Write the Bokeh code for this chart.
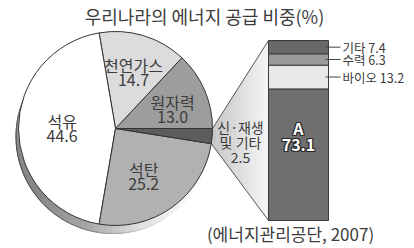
import numpy as np
from bokeh.plotting import figure
from bokeh.models import Range1d
from bokeh.core.properties import value
from bokeh.embed import file_html
from bokeh.resources import INLINE

# ---------------- data ----------------
title_text = "우리나라의 에너지 공급 비중(%)"
source_text = "(에너지관리공단, 2007)"

# pie slices, counter-clockwise starting at 3 o'clock
pie_names = ["원자력", "천연가스", "석유", "석탄", "신·재생 및 기타"]
pie_values = [13.0, 14.7, 44.6, 25.2, 2.5]
pie_label_lines = [["원자력", "13.0"], ["천연가스", "14.7"], ["석유", "44.6"],
                   ["석탄", "25.2"], ["신·재생", "및 기타", "2.5"]]
pie_colors = ["#9d9d9d", "#dcdcdc", "#ffffff", "#b1b1b1", "#5c5c5c"]

# breakdown bar of 신·재생 및 기타, bottom to top
bar_names = ["A", "바이오", "수력", "기타"]
bar_values = [73.1, 13.2, 6.3, 7.4]
bar_colors = ["#6f6f6f", "#e8e8e8", "#9a9a9a", "#686868"]

# ---------------- layout (pixel-like data units) ----------------
W, H = 414, 248
p = figure(width=W, height=H, x_range=Range1d(0, W), y_range=Range1d(0, H),
           output_backend="svg", toolbar_location=None,
           x_axis_type=None, y_axis_type=None, min_border=0)
p.outline_line_color = None
p.xgrid.visible = False
p.ygrid.visible = False
p.background_fill_color = "white"
p.border_fill_color = "white"

FONT = value("Noto Sans CJK KR")
TXT = "#3c3c3c"

cx, cy, r = 115.0, 120.0, 97.0
vals = np.array(pie_values)
ends = np.cumsum(vals) / 100 * 2 * np.pi
starts = ends - vals / 100 * 2 * np.pi

# ---- 3D depth (shaded rim at lower left) ----
ddx, ddy = -2.5, -8.0
seg = np.deg2rad(np.arange(130, 335, 4))
gray = np.interp(np.rad2deg(seg), [130, 175, 215, 250, 285, 320, 335],
                 [215, 140, 135, 165, 225, 250, 255])
cols = ["#%02x%02x%02x" % (int(g), int(g), int(g)) for g in gray]
p.wedge(x=cx + ddx, y=cy + ddy, radius=r, start_angle=seg,
        end_angle=seg + np.deg2rad(4.3), fill_color=cols, line_color=cols)
edge_seg = np.deg2rad(np.arange(140, 300, 4))
edge_g = np.interp(np.rad2deg(edge_seg), [140, 180, 230, 270, 300], [150, 70, 80, 160, 240])
edge_cols = ["#%02x%02x%02x" % (int(g), int(g), int(g)) for g in edge_g]
p.arc(x=cx + ddx, y=cy + ddy, radius=r, start_angle=edge_seg,
      end_angle=edge_seg + np.deg2rad(4.2), line_color=edge_cols, line_width=1)

# ---- connector between the small slice and the bar ----
bar_x0, bar_x1 = 268.0, 328.0
bar_y0, bar_y1 = 28.0, 208.0       # data y for 0 % and 100 %
a_top, a_bot = ends[4], starts[4]
p_top = (cx + r * np.cos(a_top), cy + r * np.sin(a_top))
p_bot = (cx + r * np.cos(a_bot), cy + r * np.sin(a_bot))
n = 14
ts = np.linspace(0, 1, n + 1)
xs, ys, ccols = [], [], []
for i in range(n):
    t0, t1 = ts[i], min(ts[i + 1] + 0.01, 1.0)
    def top(t): return (p_top[0] + (bar_x0 - p_top[0]) * t, p_top[1] + (bar_y1 - p_top[1]) * t)
    def bot(t): return (p_bot[0] + (bar_x0 - p_bot[0]) * t, p_bot[1] + (bar_y0 - p_bot[1]) * t)
    a, b, c, d = top(t0), top(t1), bot(t1), bot(t0)
    xs.append([a[0], b[0], c[0], d[0]])
    ys.append([a[1], b[1], c[1], d[1]])
    g = int(198 + (246 - 198) * (ts[i] + ts[i + 1]) / 2)
    ccols.append("#%02x%02x%02x" % (g, g, g))
p.patches(xs=xs, ys=ys, fill_color=ccols, line_color=None)
p.line(x=[p_top[0], bar_x0], y=[p_top[1], bar_y1], line_color="#555555", line_width=1)
p.line(x=[p_bot[0], bar_x0], y=[p_bot[1], bar_y0], line_color="#555555", line_width=1)

# ---- pie face ----
p.wedge(x=cx, y=cy, radius=r, start_angle=starts, end_angle=ends,
        fill_color=pie_colors, line_color="#333333", line_width=1)

# pie labels
mids = (starts + ends) / 2
lab_r = [0.62, 0.61, 0.55, 0.57]
lab_nudge = np.deg2rad([-5, -1, 0, -5])
line_h = 15
for i in range(4):
    lx = cx + lab_r[i] * r * np.cos(mids[i] + lab_nudge[i])
    ly = cy + lab_r[i] * r * np.sin(mids[i] + lab_nudge[i])
    lines = pie_label_lines[i]
    k = len(lines)
    for j, t in enumerate(lines):
        p.text(x=[lx], y=[ly + (k - 1) / 2 * line_h - j * line_h], text=[t],
               text_font=FONT, text_font_size="16px", text_color=TXT,
               text_align="center", text_baseline="middle")
# small slice label, in the connector
lx = (p_top[0] + bar_x0) / 2 + 0
ly = cy + r * np.sin(mids[4]) - 6
lines = pie_label_lines[4]
for j, t in enumerate(lines):
    p.text(x=[lx], y=[ly + 15 - j * 15], text=[t],
           text_font=FONT, text_font_size="14px", text_color=TXT,
           text_align="center", text_baseline="middle")

# ---- breakdown bar through its own scale ----
u = (bar_y1 - bar_y0) / 100
p.extra_y_ranges = {"bar": Range1d(-bar_y0 / u, (H - bar_y0) / u)}
bv = np.array(bar_values)
tops = np.cumsum(bv)
bots = tops - bv
bx = (bar_x0 + bar_x1) / 2
p.vbar(x=bx, width=bar_x1 - bar_x0, bottom=bots, top=tops, y_range_name="bar",
       fill_color=bar_colors, line_color="#3a3a3a", line_width=1)

# side labels with leader lines (upper three)
for i in range(1, 4):
    m = (bots[i] + tops[i]) / 2
    p.line(x=[bar_x1 - 3, bar_x1 + 12], y=[m, m], y_range_name="bar",
           line_color="#444444", line_width=1)
    p.text(x=[bar_x1 + 14], y=[m], y_range_name="bar",
           text=[f"{bar_names[i]} {bar_values[i]}"], text_font=FONT,
           text_font_size="12.5px", text_color=TXT, text_align="left",
           text_baseline="middle")

# label inside A (white with dark outline)
a_mid = bots[0] + bv[0] * 0.635
for j, t in enumerate([bar_names[0], f"{bar_values[0]}"]):
    yy = a_mid + 4.7 - j * 9.4
    for ox, oy in [(-1, 0), (1, 0), (0, -1), (0, 1), (-1, -1), (1, 1), (-1, 1), (1, -1)]:
        p.text(x=[bx], y=[yy], y_range_name="bar", text=[t], x_offset=ox, y_offset=oy,
               text_font=FONT, text_font_size="16px", text_color="#2a2a2a",
               text_font_style="bold", text_align="center", text_baseline="middle")
    p.text(x=[bx], y=[yy], y_range_name="bar", text=[t],
           text_font=FONT, text_font_size="16px", text_color="white",
           text_font_style="bold", text_align="center", text_baseline="middle")

# ---- title and source ----
p.text(x=[204], y=[233], text=[title_text], text_font=FONT, text_font_size="18px",
       text_color=TXT, text_align="center", text_baseline="middle")
p.text(x=[290], y=[15], text=[source_text], text_font=FONT, text_font_size="17px",
       text_color=TXT, text_align="center", text_baseline="middle")

open("out.html", "w").write(file_html(p, INLINE))
